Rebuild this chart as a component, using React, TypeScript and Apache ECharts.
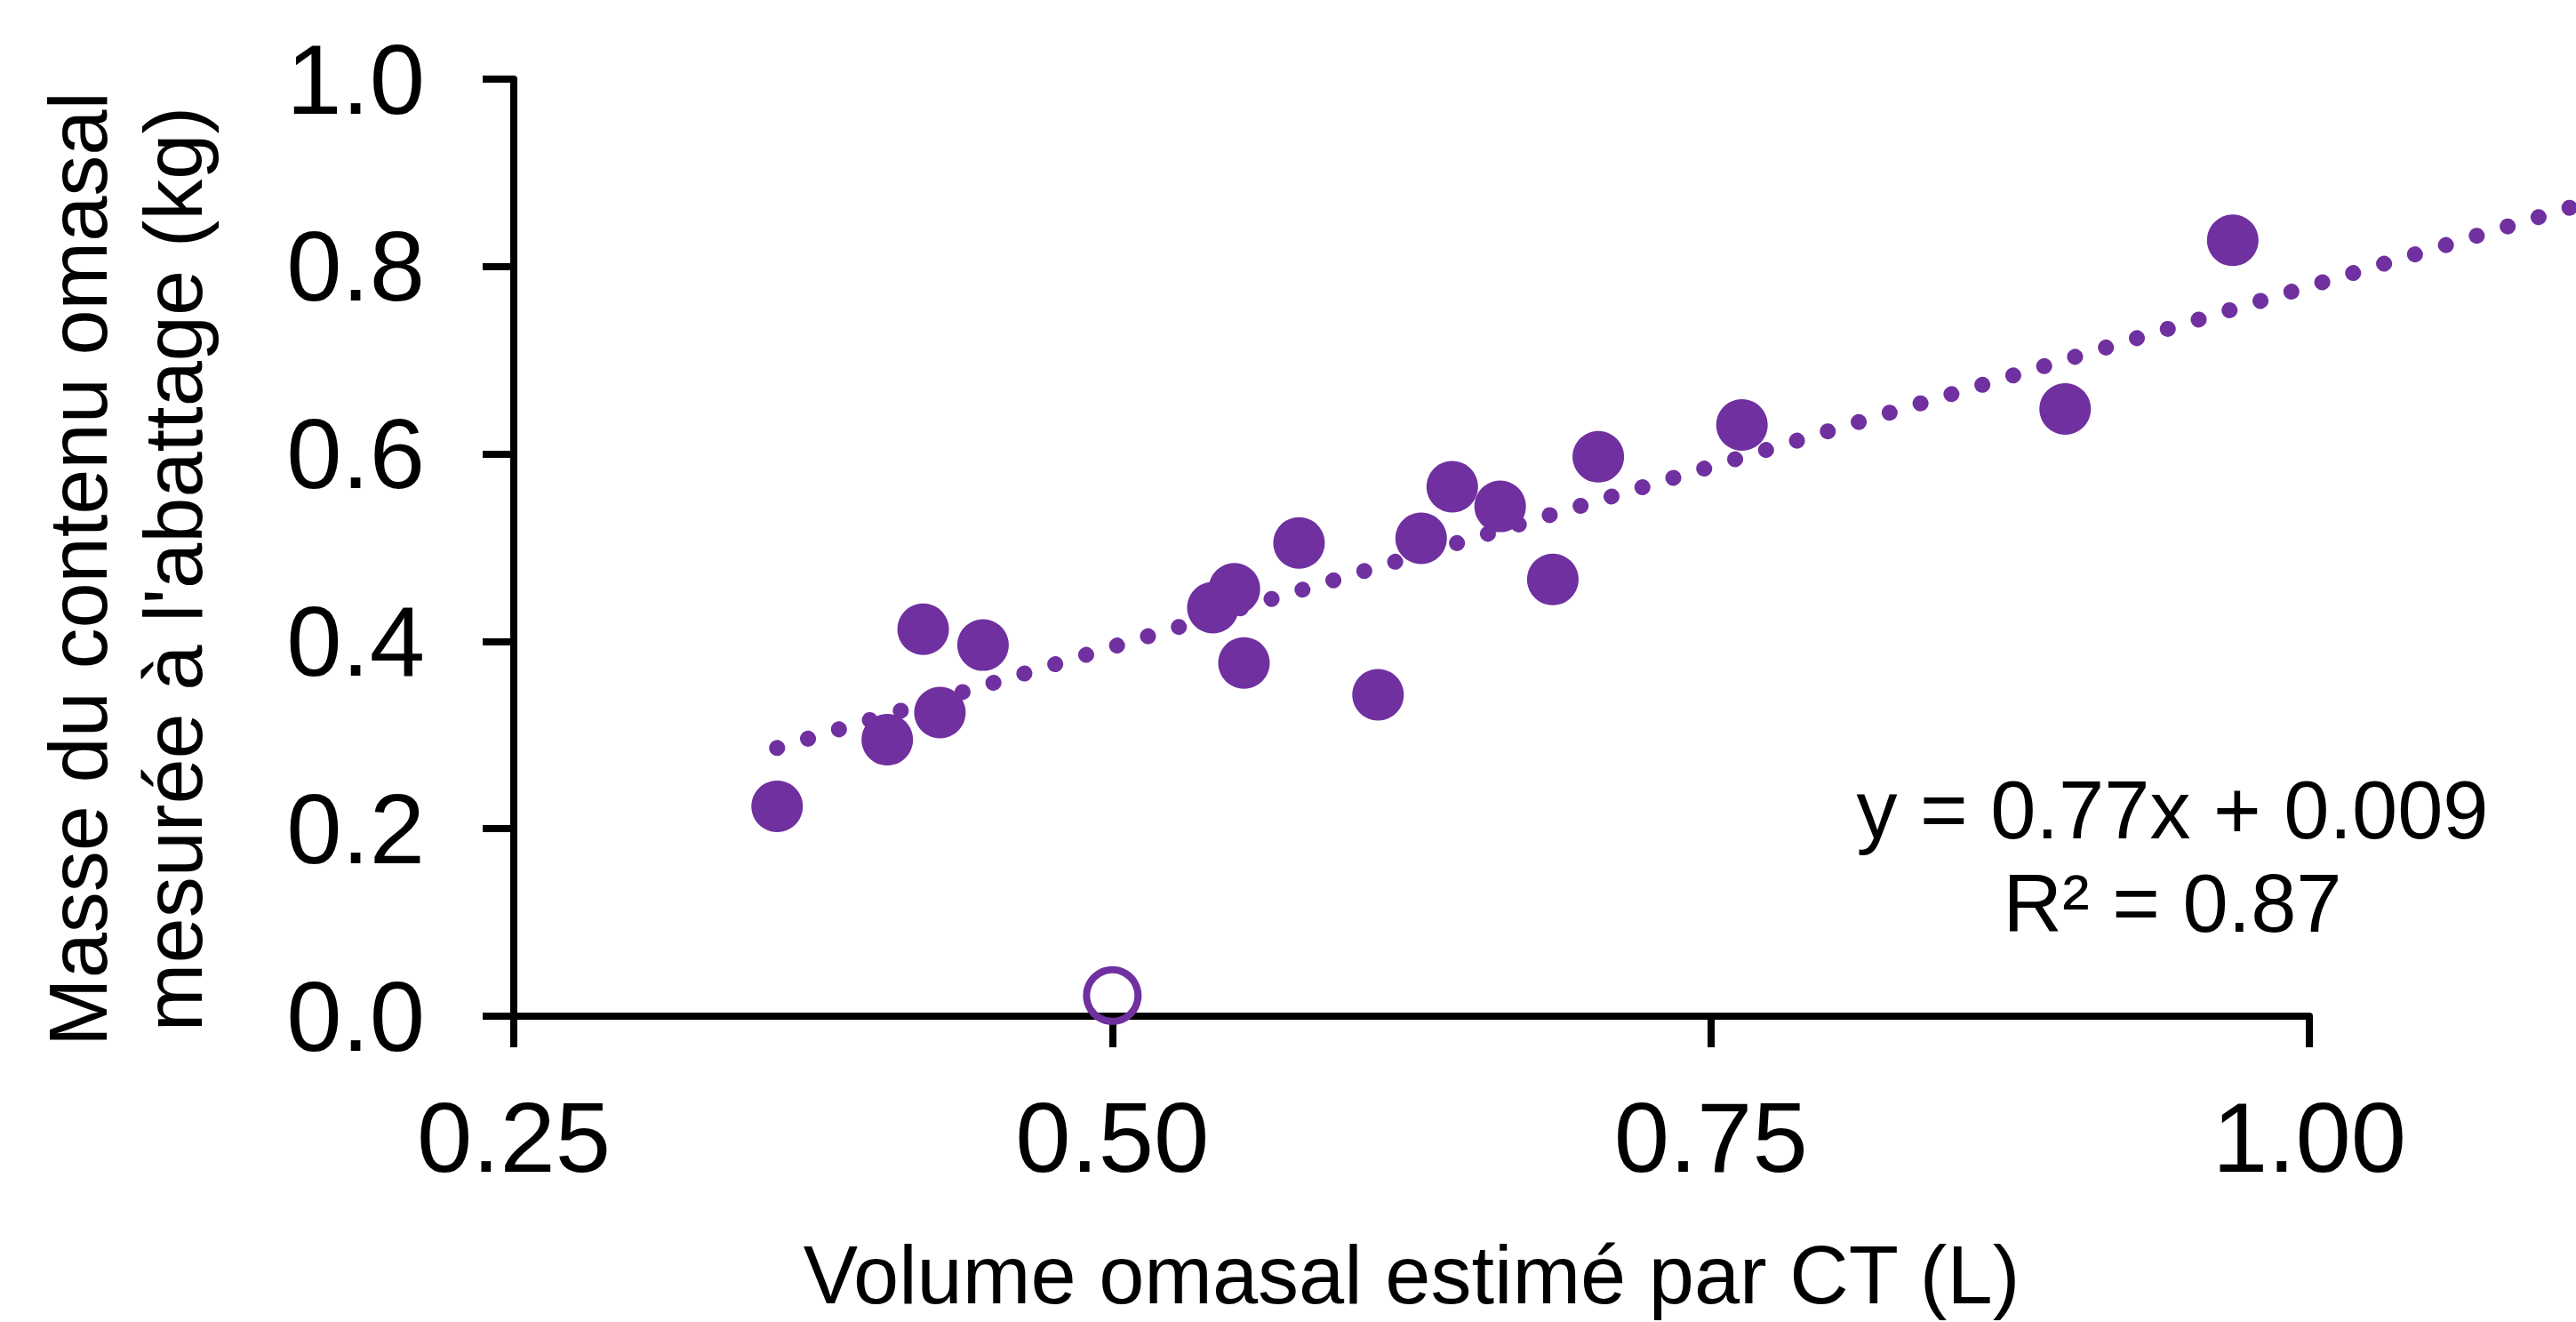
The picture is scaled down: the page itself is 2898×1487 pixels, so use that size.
import React, { useEffect, useRef } from "react";
import * as echarts from "echarts";

// ---- Data ----
const volumeCT = [0.360, 0.406, 0.421, 0.428, 0.446, 0.542, 0.551, 0.555, 0.578, 0.611, 0.629, 0.642, 0.662, 0.684, 0.703, 0.763, 0.898, 0.968];
const masseMesuree = [0.224, 0.295, 0.413, 0.324, 0.396, 0.436, 0.456, 0.377, 0.505, 0.343, 0.510, 0.565, 0.544, 0.466, 0.597, 0.631, 0.648, 0.828];
const excludedPoint = [0.500, 0.022];
const trendSlope = 0.77;
const trendIntercept = 0.009;
const trendXRange = [0.360, 1.15];
const xTitle = "Volume omasal estimé par CT (L)";
const yTitleLines = ["Masse du contenu omasal", "mesurée à l'abattage (kg)"];
const equationLines = ["y = 0.77x + 0.009", "R² = 0.87"];

const PURPLE = "#7030A0";
const FONT = "'Liberation Sans', Arial, Helvetica, sans-serif";

export default function App() {
  const ref = useRef<HTMLDivElement>(null);

  useEffect(() => {
    if (!ref.current) return;
    const chart = echarts.init(ref.current, undefined, { renderer: "svg" });

    const points = volumeCT.map((x, i) => [x, masseMesuree[i]]);
    const trend = trendXRange.map((x) => [x, trendSlope * x + trendIntercept]);

    // Main plot: x 0.25..1.00 spans 578..2598 px. The trendline extends past the
    // axis end to the picture edge, so it lives in a second, hidden grid that
    // uses the same scale but reaches the right edge.
    const mainLeft = 578;
    const mainRight = 300;
    const totalW = 2898;
    const mainWidth = totalW - mainLeft - mainRight;
    const extMax = 0.25 + (0.75 * (totalW - mainLeft)) / mainWidth;

    const option: any = {
      animation: false,
      backgroundColor: "#ffffff",
      grid: [
        { left: mainLeft, right: mainRight, top: 89, bottom: 344, containLabel: false },
        { left: mainLeft, right: 0, top: 89, bottom: 344, containLabel: false },
      ],
      xAxis: [
        {
          type: "value",
          gridIndex: 0,
          min: 0.25,
          max: 1.0,
          interval: 0.25,
          axisLine: { show: true, onZero: false, lineStyle: { color: "#000", width: 8 } },
          axisTick: { show: true, length: 35, lineStyle: { color: "#000", width: 8 } },
          splitLine: { show: false },
          axisLabel: {
            fontSize: 112,
            color: "#000",
            fontFamily: FONT,
            margin: 80,
            showMinLabel: true,
            showMaxLabel: true,
            formatter: (v: number) => v.toFixed(2),
          },
          name: xTitle,
          nameLocation: "middle",
          nameGap: 245,
          nameTextStyle: { fontSize: 92, color: "#000", fontFamily: FONT },
        },
        {
          type: "value",
          gridIndex: 1,
          min: 0.25,
          max: extMax,
          show: false,
        },
      ],
      yAxis: [
        {
          type: "value",
          gridIndex: 0,
          min: 0,
          max: 1.0,
          interval: 0.2,
          axisLine: { show: true, onZero: false, lineStyle: { color: "#000", width: 8 } },
          axisTick: { show: true, length: 35, lineStyle: { color: "#000", width: 8 } },
          splitLine: { show: false },
          axisLabel: {
            fontSize: 112,
            color: "#000",
            fontFamily: FONT,
            margin: 100,
            showMinLabel: true,
            showMaxLabel: true,
            formatter: (v: number) => v.toFixed(1),
          },
        },
        {
          type: "value",
          gridIndex: 1,
          min: 0,
          max: 1.0,
          show: false,
        },
      ],
      graphic: [
        {
          type: "text",
          x: 141,
          y: 640,
          rotation: Math.PI / 2,
          style: {
            text: yTitleLines.join("\n"),
            fontSize: 92,
            fontFamily: FONT,
            fill: "#000",
            align: "center",
            verticalAlign: "middle",
            lineHeight: 107,
          },
        },
        {
          type: "text",
          x: 2444,
          y: 963,
          style: {
            text: equationLines.join("\n"),
            fontSize: 92,
            fontFamily: FONT,
            fill: "#000",
            align: "center",
            verticalAlign: "middle",
            lineHeight: 105,
          },
        },
      ],
      series: [
        {
          type: "line",
          xAxisIndex: 1,
          yAxisIndex: 1,
          data: trend,
          symbol: "none",
          showSymbol: false,
          silent: true,
          z: 3,
          lineStyle: { color: PURPLE, width: 18, type: [0.01, 36.3], cap: "round", opacity: 1 },
        },
        {
          type: "scatter",
          xAxisIndex: 0,
          yAxisIndex: 0,
          data: points,
          symbol: "circle",
          symbolSize: 58,
          z: 2,
          itemStyle: { color: PURPLE, opacity: 1 },
        },
        {
          type: "scatter",
          xAxisIndex: 0,
          yAxisIndex: 0,
          data: [excludedPoint],
          symbol: "circle",
          symbolSize: 58,
          z: 2,
          itemStyle: { color: "rgba(255,255,255,0)", borderColor: PURPLE, borderWidth: 8, opacity: 1 },
        },
      ],
    };

    chart.setOption(option);
    return () => chart.dispose();
  }, []);

  return (
    <div
      ref={ref}
      style={{ position: "fixed", left: 0, top: 0, width: 2898, height: 1487, background: "#fff" }}
    />
  );
}
